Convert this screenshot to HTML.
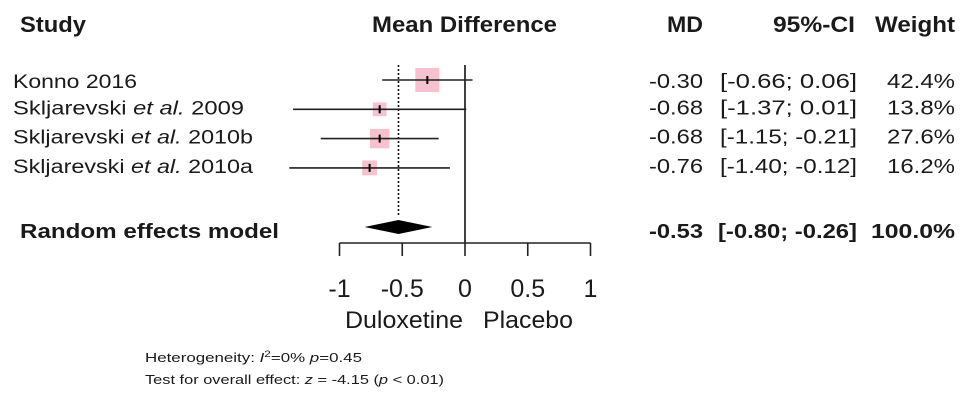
<!DOCTYPE html>
<html><head><meta charset="utf-8"><style>
body{margin:0;background:#fff;}
svg{display:block;font-family:"Liberation Sans",Arial,sans-serif;}
text{fill:#1a1a1a;}
</style></head><body>
<svg width="969" height="402" viewBox="0 0 969 402" id="chart">
<g font-weight="bold" font-size="22">
<text x="20" y="32" textLength="66" lengthAdjust="spacingAndGlyphs">Study</text>
<text x="372" y="32" textLength="185" lengthAdjust="spacingAndGlyphs">Mean Difference</text>
<text x="667" y="32" textLength="36" lengthAdjust="spacingAndGlyphs">MD</text>
<text x="773" y="32" textLength="82" lengthAdjust="spacingAndGlyphs">95%-CI</text>
<text x="875" y="32" textLength="80" lengthAdjust="spacingAndGlyphs">Weight</text>
</g>
<g id="rows"></g>
<g id="axis"></g>
<text x="145" y="362" font-size="13" textLength="217" lengthAdjust="spacingAndGlyphs">Heterogeneity: <tspan font-style="italic">I</tspan><tspan font-size="9" dy="-5">2</tspan><tspan dy="5">=0%  </tspan><tspan font-style="italic">p</tspan>=0.45</text>
<text x="145" y="384" font-size="13" textLength="299" lengthAdjust="spacingAndGlyphs">Test for overall effect: <tspan font-style="italic">z</tspan> = -4.15 (<tspan font-style="italic">p</tspan> &lt; 0.01)</text>
</svg>
<script>
const studies=["Konno 2016","Skljarevski|2009","Skljarevski|2010b","Skljarevski|2010a"];
const md=[-0.30,-0.68,-0.68,-0.76];
const lower=[-0.66,-1.37,-1.15,-1.40];
const upper=[0.06,0.01,-0.21,-0.12];
const weights=[42.4,13.8,27.6,16.2];
const pooled=[-0.53,-0.80,-0.26];
const ticks=[-1,-0.5,0,0.5,1];
const tickLabels=["-1","-0.5","0","0.5","1"];

const NS="http://www.w3.org/2000/svg";
const X=v=>465+v*125.5;
const rowY=i=>80+i*29.3;
function mk(t,a,p){const e=document.createElementNS(NS,t);for(const k in a)e.setAttribute(k,a[k]);p.appendChild(e);return e;}
const rows=document.getElementById('rows'),axis=document.getElementById('axis');
const f=v=>v.toFixed(2);
const ciStr=(a,b)=>'['+f(a)+'; '+(b>=0?' ':'')+f(b)+']';
let l=mk('line',{x1:X(0),x2:X(0),y1:65,y2:243,stroke:'#111','stroke-width':1.6},rows);


l=mk('line',{x1:X(pooled[0]),x2:X(pooled[0]),y1:65,y2:216,stroke:'#111','stroke-width':1.6,'stroke-dasharray':'2,2'},rows);


studies.forEach((s,i)=>{
  const y=rowY(i);
  const sz=Math.sqrt(weights[i])*3.7;
  const g=mk('g',{},rows);
  
  
  const sq=mk('rect',{x:X(md[i])-sz/2,y:y-sz/2,width:sz,height:sz,fill:'#f7c1cf'},g);
  
  
  const ci=mk('line',{x1:X(lower[i]),x2:X(upper[i]),y1:y,y2:y,stroke:'#222','stroke-width':1.6},g);
  
  
  const pt=mk('line',{x1:X(md[i]),x2:X(md[i]),y1:y-4,y2:y+4,stroke:'#000','stroke-width':2},g);
  
  
  const ty=y+(i===0?8:5);
  const parts=s.split('|');
  const t=mk('text',{x:13,y:ty,'font-size':19,textLength:parts.length>1?(parts[1].length>4?240:231):124,lengthAdjust:'spacingAndGlyphs'},g);
  
  
  if(parts.length>1){t.innerHTML=parts[0]+' <tspan font-style="italic">et al.</tspan> '+parts[1];}else t.textContent=s;
  const a=mk('text',{x:703,y:ty,'font-size':20,'text-anchor':'end',textLength:54,lengthAdjust:'spacingAndGlyphs'},g);a.textContent=f(md[i]);
  
  
  const b=mk('text',{x:857,y:ty,'font-size':20,'text-anchor':'end',textLength:137,lengthAdjust:'spacingAndGlyphs'},g);b.textContent=ciStr(lower[i],upper[i]);
  
  
  const c=mk('text',{x:955,y:ty,'font-size':20,'text-anchor':'end',textLength:68,lengthAdjust:'spacingAndGlyphs'},g);c.textContent=weights[i].toFixed(1)+'%';
  
  
});
const dy=227;
const d=mk('polygon',{points:`${X(pooled[1])},${dy} ${X(pooled[0])},${dy-7} ${X(pooled[2])},${dy} ${X(pooled[0])},${dy+7}`,fill:'#000'},rows);


[['Random effects model',20,'start',259],[f(pooled[0]),703,'end',54],['['+f(pooled[1])+'; '+f(pooled[2])+']',857,'end',139],['100.0%',955,'end',84]].forEach((r,k)=>{
  const t=mk('text',{x:r[1],y:238,'font-size':20,'font-weight':'bold','text-anchor':r[2],textLength:r[3],lengthAdjust:'spacingAndGlyphs'},rows);t.textContent=r[0];
  
  
});
const ax=mk('line',{x1:X(ticks[0]),x2:X(ticks[ticks.length-1]),y1:243,y2:243,stroke:'#222','stroke-width':1.6},axis);


ticks.forEach((v,i)=>{
  const tk=mk('line',{x1:X(v),x2:X(v),y1:243,y2:256,stroke:'#222','stroke-width':1.6},axis);
  
  
  const t=mk('text',{x:X(v),y:297,'font-size':25,'text-anchor':'middle'},axis);t.textContent=tickLabels[i];
  
  
});
let t1=mk('text',{x:345,y:328,'font-size':24,textLength:118,lengthAdjust:'spacingAndGlyphs'},axis);t1.textContent='Duloxetine';


let t2=mk('text',{x:483,y:328,'font-size':24,textLength:90,lengthAdjust:'spacingAndGlyphs'},axis);t2.textContent='Placebo';


</script>
</body></html>
